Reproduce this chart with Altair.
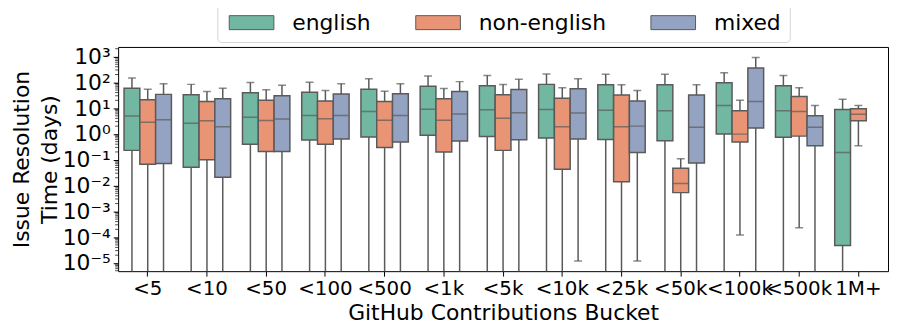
import altair as alt
import pandas as pd

cats = ["<5", "<10", "<50", "<100", "<500", "<1k", "<5k", "<10k", "<25k", "<50k", "<100k", "<500k", "1M+"]
langs = ["english", "non-english", "mixed"]
colors = ["#72b7a1", "#e99575", "#95a3c3"]

# box statistics per language (days); lo = 1e-6 means the whisker runs below the axis
eng_lo = [1e-6] * 13
eng_q1 = [0.23, 0.051, 0.40, 0.58, 0.76, 0.89, 0.79, 0.70, 0.61, 0.54, 1.0, 0.74, 4.7e-5]
eng_med = [4.9, 2.6, 4.4, 5.2, 7.4, 9.1, 8.7, 8.9, 8.3, 7.9, 12.6, 7.9, 0.19]
eng_q3 = [59, 33, 39, 41, 54, 70, 73, 83, 81, 81, 95, 73, 8.9]
eng_hi = [148, 83, 98, 100, 138, 176, 185, 210, 203, 203, 234, 185, 22]

non_lo = [1e-6] * 10 + [1.2e-4, 2.3e-4, 0.35]
non_q1 = [0.066, 0.10, 0.21, 0.40, 0.30, 0.20, 0.23, 0.043, 0.014, 0.0053, 0.49, 0.82, 3.2]
non_med = [2.8, 3.2, 3.3, 3.9, 3.4, 3.4, 4.0, 1.9, 1.9, 0.012, 0.98, 7.4, 5.8]
non_q3 = [21, 18, 20, 19, 18, 23, 33, 24, 32, 0.047, 7.9, 28, 9.5]
non_hi = [54, 44, 51, 48, 45, 58, 82, 61, 81, 0.11, 20, 61, 12.6]

mix_lo = [1e-6] * 7 + [1.2e-5, 1.2e-5, 1e-6, 1e-6, 1e-6, None]
mix_q1 = [0.072, 0.021, 0.21, 0.63, 0.49, 0.53, 0.59, 0.63, 0.19, 0.074, 1.7, 0.35, None]
mix_med = [3.5, 1.9, 3.8, 5.2, 5.2, 5.9, 6.6, 6.4, 2.0, 1.8, 18, 1.8, None]
mix_q3 = [34, 23, 30, 35, 36, 44, 53, 56, 19, 32, 357, 5.1, None]
mix_hi = [87, 59, 76, 87, 87, 106, 131, 138, 48, 81, 920, 12.6, None]

major_ticks = [1e-5, 1e-4, 1e-3, 1e-2, 1e-1, 1, 10, 100, 1000]
minor_ticks = [m * 10.0 ** e for e in range(-6, 4) for m in range(2, 10)]

rows = []
for lang, lo, q1, med, q3, hi in [
    ("english", eng_lo, eng_q1, eng_med, eng_q3, eng_hi),
    ("non-english", non_lo, non_q1, non_med, non_q3, non_hi),
    ("mixed", mix_lo, mix_q1, mix_med, mix_q3, mix_hi),
]:
    for i, c in enumerate(cats):
        if q1[i] is None:
            continue
        rows.append(dict(cat=c, lang=lang, lo=lo[i], q1=q1[i], med=med[i], q3=q3[i], hi=hi[i]))
df = pd.DataFrame(rows)

ymin, ymax = 4.8e-6, 2340
minor_df = pd.DataFrame({"v": [v for v in minor_ticks if ymin <= v <= ymax]})

gray = "#5a5a5a"
font = "DejaVu Sans"

yscale = alt.Scale(type="log", domain=[ymin, ymax], nice=False)
yaxis = alt.Axis(
    title=["Issue Resolution", "Time (days)"],
    values=major_ticks,
    labelExpr="'10' + ['⁻⁵','⁻⁴','⁻³','⁻²','⁻¹','⁰','¹','²','³'][round(log(datum.value)/LN10)+5]",
    labelFontSize=22,
    titleFontSize=22,
    titleLineHeight=28,
    tickSize=5,
    labelPadding=3,
    titlePadding=1,
    grid=False,
    domain=False,
    labelOverlap=False,
    labelFlush=False,
)


def Y(field):
    return alt.Y(field, type="quantitative", scale=yscale, axis=yaxis)


base = alt.Chart(df).encode(
    x=alt.X(
        "cat:N",
        sort=cats,
        scale=alt.Scale(domain=cats, paddingInner=0.2, paddingOuter=0.1),
        axis=alt.Axis(
            title="GitHub Contributions Bucket",
            labelAngle=0,
            labelFontSize=20,
            titleFontSize=22,
            tickSize=5,
            labelPadding=3,
            titlePadding=4,
            domain=False,
            grid=False,
            labelOverlap=False,
        ),
    ),
    xOffset=alt.XOffset("lang:N", sort=langs, scale=alt.Scale(domain=langs, paddingInner=0, paddingOuter=0)),
)

whisk = base.mark_rule(color=gray, strokeWidth=1.5, clip=True).encode(y=Y("lo"), y2="hi:Q")
box = base.mark_bar(stroke=gray, strokeWidth=1.5, clip=True, opacity=1).encode(
    y=Y("q1"),
    y2="q3:Q",
    color=alt.Color(
        "lang:N",
        scale=alt.Scale(domain=langs, range=colors),
        legend=alt.Legend(
            title=None,
            orient="none",
            direction="horizontal",
            legendX=100,
            legendY=-44,
            symbolType="M-1,-0.94H5V0.94H-1Z",
            symbolSize=225,
            symbolStrokeColor=gray,
            symbolStrokeWidth=1,
            symbolOpacity=1,
            labelFont=font,
            labelFontSize=22,
            labelOffset=45,
            labelLimit=300,
            columnPadding=41,
            padding=8.5,
            strokeColor="#d4d4d4",
            fillColor="white",
            cornerRadius=4,
        ),
    ),
)
med = base.mark_tick(color=gray, thickness=1.5, size=15, clip=True).encode(y=Y("med"))
cap_hi = base.mark_tick(color=gray, thickness=1.5, size=8, clip=True).encode(y=Y("hi"))
cap_lo = base.mark_tick(color=gray, thickness=1.5, size=8, clip=True).encode(y=Y("lo"))

minor = alt.Chart(minor_df).mark_tick(color="black", thickness=1, size=3).encode(
    y=Y("v"), x=alt.value(-1.5)
)

chart = (
    alt.layer(whisk, box, med, cap_hi, cap_lo, minor)
    .properties(
        width=776,
        height=226,
        autosize="none",
        padding={"left": 111, "top": 38, "right": 1, "bottom": 52},
    )
    .configure_view(stroke="black", strokeWidth=1)
    .configure_axis(
        labelFont=font,
        titleFont=font,
        labelColor="black",
        titleColor="black",
        tickColor="black",
        titleFontWeight="normal",
    )
    .configure_legend(labelColor="black")
)

chart.save("out.html", embed_options={"renderer": "svg", "actions": False})
